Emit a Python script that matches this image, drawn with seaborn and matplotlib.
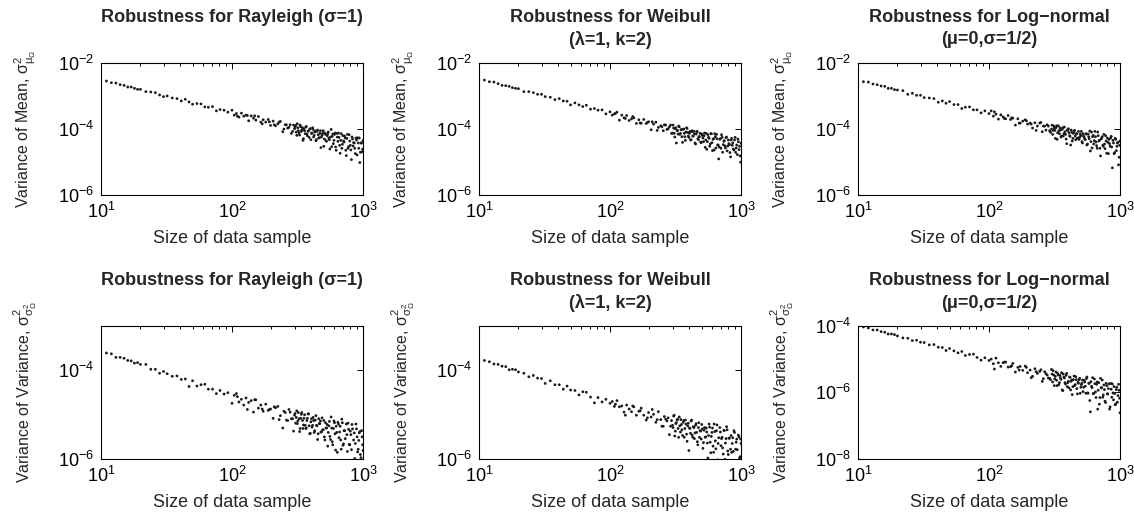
import numpy as np
import matplotlib
matplotlib.use("Agg")
import matplotlib.pyplot as plt
import seaborn as sns
from matplotlib.ticker import FixedLocator, LogLocator, NullLocator, NullFormatter

# ---------------- data ----------------
sample_size = [11, 12, 13, 14, 15, 16, 17, 18, 19, 20, 22, 24, 26, 28, 30, 32, 35, 38, 41, 44,
               47, 50, 54, 58, 62, 66, 71, 76, 81, 87, 93, 100, 104, 108, 113, 118, 123, 128, 134, 140,
               146, 152, 159, 166, 173, 181, 189, 197, 206, 215, 224, 234, 244, 255, 266, 278, 290, 300, 306, 312,
               318, 325, 331, 338, 345, 351, 358, 366, 373, 380, 388, 396, 404, 412, 420, 428, 437, 446, 455, 464,
               473, 482, 492, 502, 512, 522, 533, 543, 554, 565, 577, 588, 600, 612, 624, 637, 650, 663, 676, 689,
               703, 717, 732, 746, 761, 776, 792, 808, 824, 840, 857, 874, 892, 910, 928, 946, 965, 985, 1000]
extra_size = [110, 131, 149, 170, 193, 210, 229, 249, 260, 272, 284, 295, 303, 309, 315, 321, 328, 334, 341, 348,
              354, 362, 369, 376, 384, 392, 400, 408, 416, 424, 432, 441, 450, 459, 468, 477, 487, 497, 507, 517,
              527, 538, 548, 559, 571, 582, 594, 606, 618, 630, 643, 656, 669, 682, 696, 710, 724, 739, 753, 768,
              784, 800, 816, 832, 848, 865, 883, 901, 919, 937, 955, 975, 992]

# log10 of the plotted variance values (main run at sample_size, extra run at extra_size)
mean_rayleigh_log10 = [
    -2.56, -2.61, -2.62, -2.67, -2.69, -2.74, -2.74, -2.78, -2.81, -2.81,
    -2.88, -2.89, -2.91, -2.98, -3.03, -3.01, -3.07, -3.09, -3.16, -3.11,
    -3.19, -3.26, -3.24, -3.25, -3.34, -3.35, -3.33, -3.46, -3.42, -3.44,
    -3.50, -3.44, -3.59, -3.54, -3.65, -3.53, -3.62, -3.59, -3.76, -3.61,
    -3.68, -3.74, -3.63, -3.80, -3.73, -3.80, -3.72, -3.90, -3.77, -3.91,
    -3.85, -3.78, -4.09, -3.88, -3.98, -3.88, -4.08, -4.00, -3.90, -4.20,
    -3.97, -4.13, -3.89, -4.08, -3.97, -4.30, -4.06, -3.95, -4.16, -4.07,
    -4.26, -4.00, -4.14, -3.97, -4.25, -4.10, -4.36, -4.08, -4.18, -4.27,
    -4.06, -4.25, -4.14, -4.53, -4.13, -4.36, -4.21, -4.10, -4.33, -4.25,
    -4.54, -4.16, -4.35, -4.13, -4.65, -4.25, -4.13, -4.50, -4.35, -4.59,
    -4.21, -4.40, -4.28, -4.81, -4.17, -4.54, -4.37, -4.64, -4.25, -4.52,
    -4.43, -4.75, -4.34, -4.27, -4.59, -5.02, -4.43, -4.70, -4.36]
mean_rayleigh_extra_log10 = [
    -3.62, -3.60, -3.61, -3.85, -3.79, -3.88, -3.80, -4.01, -3.88, -3.96,
    -4.14, -3.89, -3.95, -4.10, -3.85, -4.06, -4.19, -3.94, -4.04, -4.35,
    -4.00, -4.15, -3.93, -4.21, -4.07, -4.01, -4.33, -4.13, -4.02, -4.20,
    -4.07, -4.33, -4.04, -4.28, -4.14, -4.57, -4.19, -4.06, -4.31, -4.17,
    -4.38, -4.15, -4.28, -4.61, -4.02, -4.23, -4.45, -4.17, -4.55, -4.14,
    -4.38, -4.26, -4.74, -4.15, -4.47, -4.37, -4.22, -4.65, -4.29, -4.59,
    -4.18, -4.50, -4.93, -4.31, -4.42, -4.59, -4.28, -4.79, -4.43, -4.28,
    -4.71, -4.43, -4.62]
mean_weibull_log10 = [
    -2.53, -2.58, -2.59, -2.64, -2.69, -2.70, -2.72, -2.76, -2.78, -2.79,
    -2.88, -2.88, -2.91, -2.96, -2.96, -3.03, -3.05, -3.12, -3.09, -3.16,
    -3.17, -3.28, -3.22, -3.28, -3.33, -3.29, -3.41, -3.39, -3.44, -3.43,
    -3.55, -3.49, -3.59, -3.55, -3.50, -3.74, -3.59, -3.67, -3.60, -3.75,
    -3.70, -3.67, -3.84, -3.73, -3.83, -3.72, -3.84, -3.79, -4.03, -3.86,
    -3.80, -3.96, -3.91, -4.06, -3.89, -4.00, -3.89, -4.13, -3.98, -4.25,
    -3.97, -4.06, -4.16, -3.94, -4.14, -4.03, -4.41, -4.01, -4.24, -4.10,
    -3.99, -4.22, -4.14, -4.34, -4.09, -4.22, -4.08, -4.43, -4.16, -4.09,
    -4.33, -4.24, -4.40, -4.16, -4.28, -4.21, -4.56, -4.14, -4.39, -4.26,
    -4.53, -4.15, -4.42, -4.32, -4.64, -4.24, -4.17, -4.49, -4.91, -4.32,
    -4.59, -4.26, -4.48, -4.36, -4.58, -4.25, -4.52, -4.45, -4.72, -4.34,
    -4.50, -4.61, -4.34, -4.71, -4.49, -4.31, -4.63, -4.82, -4.44]
mean_weibull_extra_log10 = [
    -3.54, -3.69, -3.63, -3.83, -3.81, -3.79, -4.05, -3.94, -3.88, -4.02,
    -3.94, -4.14, -3.89, -4.14, -4.00, -4.43, -4.05, -3.92, -4.17, -4.03,
    -4.24, -4.01, -4.14, -4.35, -3.97, -4.11, -4.26, -4.08, -4.33, -4.06,
    -4.22, -4.15, -4.46, -4.08, -4.30, -4.24, -4.14, -4.42, -4.20, -4.39,
    -4.13, -4.34, -4.62, -4.18, -4.29, -4.46, -4.15, -4.66, -4.30, -4.15,
    -4.58, -4.30, -4.49, -4.55, -4.30, -4.18, -4.71, -4.38, -4.52, -4.27,
    -4.67, -4.34, -4.48, -4.85, -4.29, -4.43, -4.64, -4.26, -4.58, -4.78,
    -4.39, -4.53, -5.01]
mean_lognormal_log10 = [
    -2.58, -2.59, -2.65, -2.67, -2.71, -2.72, -2.78, -2.78, -2.82, -2.83,
    -2.85, -2.96, -2.93, -2.99, -2.99, -3.06, -3.07, -3.09, -3.20, -3.16,
    -3.23, -3.18, -3.27, -3.27, -3.39, -3.35, -3.34, -3.43, -3.43, -3.52,
    -3.46, -3.54, -3.46, -3.62, -3.56, -3.71, -3.58, -3.64, -3.70, -3.60,
    -3.72, -3.68, -3.89, -3.70, -3.83, -3.77, -3.73, -3.86, -3.83, -3.98,
    -3.82, -3.92, -3.83, -4.09, -3.92, -3.88, -4.06, -4.01, -4.17, -3.92,
    -4.05, -3.97, -4.32, -3.91, -4.15, -4.04, -4.22, -3.97, -4.15, -4.09,
    -4.31, -4.04, -4.00, -4.21, -4.49, -4.11, -4.29, -4.08, -4.22, -4.15,
    -4.29, -4.08, -4.26, -4.21, -4.39, -4.15, -4.26, -4.33, -4.16, -4.46,
    -4.24, -4.07, -4.39, -4.58, -4.20, -4.36, -4.24, -4.51, -4.10, -4.37,
    -4.59, -4.31, -4.24, -4.53, -4.46, -4.21, -4.74, -4.41, -4.32, -4.53,
    -4.23, -5.18, -4.43, -4.72, -4.32, -4.53, -4.41, -4.86, -4.37]
mean_lognormal_extra_log10 = [
    -3.49, -3.69, -3.67, -3.83, -3.76, -3.86, -4.05, -3.81, -3.92, -4.04,
    -3.92, -4.11, -3.89, -4.05, -3.98, -4.29, -3.91, -4.12, -4.06, -3.97,
    -4.25, -4.02, -4.22, -3.95, -4.17, -4.45, -4.05, -4.12, -4.23, -4.04,
    -4.37, -4.14, -4.05, -4.33, -4.15, -4.28, -4.32, -4.16, -4.08, -4.43,
    -4.22, -4.31, -4.15, -4.49, -4.16, -4.30, -4.67, -4.10, -4.24, -4.46,
    -4.08, -4.40, -4.59, -4.21, -4.35, -4.82, -4.29, -4.50, -4.17, -4.60,
    -4.37, -4.28, -4.75, -4.45, -4.28, -4.55, -4.35, -4.75, -4.29, -4.66,
    -4.43, -5.09, -4.50]
var_rayleigh_log10 = [
    -3.61, -3.63, -3.71, -3.71, -3.73, -3.78, -3.79, -3.84, -3.83, -3.87,
    -3.87, -3.98, -3.98, -4.07, -4.03, -4.08, -4.14, -4.13, -4.21, -4.20,
    -4.37, -4.24, -4.36, -4.33, -4.32, -4.43, -4.43, -4.53, -4.46, -4.54,
    -4.51, -4.75, -4.57, -4.53, -4.72, -4.66, -4.79, -4.63, -4.73, -4.69,
    -4.95, -4.67, -4.86, -4.79, -4.93, -4.77, -4.91, -4.88, -5.09, -4.85,
    -4.82, -5.03, -5.31, -4.96, -5.14, -4.95, -5.10, -5.02, -5.20, -4.92,
    -5.15, -5.10, -5.32, -5.00, -5.14, -5.24, -5.01, -5.32, -5.14, -4.99,
    -5.26, -5.43, -5.10, -5.25, -5.14, -5.37, -5.03, -5.26, -5.44, -5.21,
    -5.15, -5.40, -5.35, -5.14, -5.58, -5.31, -5.23, -5.41, -5.16, -5.57,
    -5.31, -5.69, -5.15, -5.44, -5.27, -5.86, -5.22, -5.40, -5.58, -5.11,
    -5.70, -5.37, -5.55, -5.22, -5.84, -5.34, -5.69, -5.46, -5.23, -6.05,
    -5.42, -5.66, -5.33, -5.85, -5.59, -5.39, -5.98, -5.51, -5.82]
var_rayleigh_extra_log10 = [
    -4.60, -4.89, -4.67, -4.88, -4.89, -4.83, -5.12, -4.93, -5.13, -4.89,
    -5.10, -5.38, -4.98, -5.07, -5.21, -4.96, -5.39, -5.09, -4.96, -5.32,
    -5.09, -5.25, -5.31, -5.09, -4.99, -5.44, -5.17, -5.29, -5.07, -5.41,
    -5.13, -5.25, -5.57, -5.10, -5.21, -5.40, -5.08, -5.35, -5.51, -5.19,
    -5.31, -5.72, -5.26, -5.50, -5.06, -5.62, -5.32, -5.19, -5.81, -5.41,
    -5.18, -5.53, -5.27, -5.79, -5.19, -5.67, -5.37, -6.23, -5.46, -5.20,
    -5.68, -5.38, -5.80, -5.33, -5.58, -6.00, -5.22, -5.51, -5.79, -5.42,
    -5.91, -5.37, -5.69]
var_weibull_log10 = [
    -3.78, -3.81, -3.86, -3.87, -3.91, -3.92, -3.99, -3.98, -3.99, -4.04,
    -4.07, -4.15, -4.12, -4.18, -4.19, -4.30, -4.24, -4.33, -4.33, -4.43,
    -4.36, -4.45, -4.46, -4.56, -4.49, -4.50, -4.61, -4.74, -4.62, -4.72,
    -4.66, -4.75, -4.71, -4.82, -4.69, -4.83, -4.81, -4.95, -4.79, -4.88,
    -4.94, -4.83, -5.02, -4.93, -4.86, -5.02, -5.13, -4.96, -5.06, -5.00,
    -5.18, -4.94, -5.12, -5.27, -5.11, -5.08, -5.27, -5.25, -5.04, -5.49,
    -5.21, -5.13, -5.32, -5.06, -5.40, -5.23, -5.48, -5.14, -5.32, -5.22,
    -5.61, -5.20, -5.31, -5.43, -5.13, -5.52, -5.30, -5.42, -5.21, -5.62,
    -5.30, -5.52, -5.38, -5.23, -5.77, -5.36, -5.52, -5.31, -5.65, -5.48,
    -5.29, -5.87, -5.41, -5.72, -5.22, -5.60, -5.37, -6.03, -5.53, -5.30,
    -5.71, -5.52, -5.90, -5.37, -5.65, -5.28, -5.83, -5.54, -6.05, -5.48,
    -5.66, -5.84, -5.41, -5.79, -5.56, -6.32, -5.51, -5.96, -5.66]
var_weibull_extra_log10 = [
    -4.77, -5.02, -4.81, -4.92, -5.08, -4.89, -5.12, -5.27, -5.05, -5.15,
    -5.46, -5.14, -5.30, -5.02, -5.38, -5.19, -5.11, -5.52, -5.26, -5.12,
    -5.35, -5.18, -5.52, -5.13, -5.45, -5.26, -5.82, -5.32, -5.15, -5.47,
    -5.28, -5.55, -5.25, -5.41, -5.69, -5.19, -5.37, -5.56, -5.33, -5.64,
    -5.30, -5.51, -5.40, -5.99, -5.22, -5.63, -5.50, -5.31, -5.86, -5.39,
    -5.78, -5.24, -5.66, -6.21, -5.40, -5.55, -5.76, -5.36, -6.02, -5.55,
    -5.35, -5.91, -5.54, -5.79, -5.86, -5.53, -5.37, -6.06, -5.63, -5.80,
    -5.47, -5.99, -5.56]
var_lognormal_log10 = [
    -4.03, -4.06, -4.12, -4.12, -4.17, -4.19, -4.24, -4.24, -4.26, -4.30,
    -4.36, -4.37, -4.44, -4.43, -4.49, -4.50, -4.57, -4.56, -4.64, -4.65,
    -4.74, -4.68, -4.75, -4.81, -4.77, -4.89, -4.86, -4.85, -4.95, -5.03,
    -4.96, -5.04, -5.00, -5.14, -4.97, -5.11, -5.22, -5.11, -5.09, -5.24,
    -5.23, -5.13, -5.39, -5.25, -5.22, -5.34, -5.21, -5.41, -5.33, -5.52,
    -5.29, -5.43, -5.37, -5.67, -5.38, -5.48, -5.58, -5.31, -5.69, -5.48,
    -5.60, -5.39, -5.80, -5.48, -5.71, -5.56, -5.41, -5.95, -5.54, -5.71,
    -5.49, -5.83, -5.67, -5.54, -5.93, -5.63, -5.83, -5.51, -5.77, -5.62,
    -6.05, -5.73, -5.58, -5.85, -5.73, -5.98, -5.64, -5.82, -5.59, -6.02,
    -5.73, -6.25, -5.68, -5.86, -6.04, -5.60, -5.99, -5.76, -6.51, -5.71,
    -6.16, -5.86, -5.63, -6.08, -5.92, -6.31, -5.80, -6.05, -5.75, -6.44,
    -5.91, -5.75, -6.23, -6.04, -6.35, -5.85, -6.10, -5.94, -6.62]
var_lognormal_extra_log10 = [
    -5.30, -5.09, -5.20, -5.33, -5.25, -5.56, -5.38, -5.32, -5.59, -5.44,
    -5.57, -5.62, -5.45, -5.35, -5.80, -5.52, -5.64, -5.43, -5.77, -5.49,
    -5.61, -5.93, -5.45, -5.57, -5.75, -5.43, -5.71, -5.87, -5.55, -5.67,
    -6.07, -5.62, -5.80, -5.53, -5.89, -5.70, -5.62, -6.03, -5.77, -5.63,
    -5.85, -5.69, -6.03, -5.54, -6.03, -5.73, -6.59, -5.82, -5.56, -6.04,
    -5.74, -6.16, -5.69, -5.94, -6.36, -5.58, -5.87, -6.15, -5.78, -6.27,
    -5.73, -6.05, -5.89, -6.51, -5.73, -6.15, -6.02, -5.83, -6.38, -5.92,
    -6.30, -5.76, -6.18]

title_line1 = ["Robustness for Rayleigh (σ=1)", "Robustness for Weibull", "Robustness for Log\u2212normal"]
title_line2 = ["", "(λ=1, k=2)", "(μ=0,σ=1/2)"]
xlabel_text = "Size of data sample"
ylabel_mean = r"Variance of Mean, $\mathregular{σ^{2}_{μ_{Ω}}}$"
ylabel_var = r"Variance of Variance, $\mathregular{σ^{2}_{σ^{2}_{Ω}}}$"
x_ticks = [10, 100, 1000]
y_limits = [[(1e-6, 1e-2), (1e-6, 1e-2), (1e-6, 1e-2)],
            [(1e-6, 1e-3), (1e-6, 1e-3), (1e-8, 1e-4)]]
y_ticks = [[[1e-6, 1e-4, 1e-2]] * 3,
           [[1e-6, 1e-4], [1e-6, 1e-4], [1e-8, 1e-6, 1e-4]]]

panel_main = [[mean_rayleigh_log10, mean_weibull_log10, mean_lognormal_log10],
              [var_rayleigh_log10, var_weibull_log10, var_lognormal_log10]]
panel_extra = [[mean_rayleigh_extra_log10, mean_weibull_extra_log10, mean_lognormal_extra_log10],
               [var_rayleigh_extra_log10, var_weibull_extra_log10, var_lognormal_extra_log10]]

# ---------------- style ----------------
sns.set_style("white")
plt.rcParams["font.family"] = ["Liberation Sans", "DejaVu Sans"]
plt.rcParams["mathtext.fontset"] = "custom"
plt.rcParams["mathtext.rm"] = "Liberation Sans"
plt.rcParams["mathtext.it"] = "Liberation Sans:italic"
plt.rcParams["mathtext.bf"] = "Liberation Sans:bold"

W, H = 1134, 522
fig = plt.figure(figsize=(W / 100, H / 100), dpi=100)
fig.patch.set_facecolor("white")

col_left_px = [101, 479, 858]
axes_w_px = 262
row_top_px = [62.5, 326]
axes_h_px = 132.5

for r in range(2):
    for c in range(3):
        left = col_left_px[c] / W
        bottom = 1 - (row_top_px[r] + axes_h_px) / H
        ax = fig.add_axes([left, bottom, axes_w_px / W, axes_h_px / H])
        xs = list(sample_size) + list(extra_size)
        ys = 10.0 ** np.asarray(list(panel_main[r][c]) + list(panel_extra[r][c]))
        sns.scatterplot(x=xs, y=ys, ax=ax, s=4.0, marker="o",
                        color="#1a1a1a", edgecolor="none", linewidth=0, legend=False)
        ax.set_xscale("log")
        ax.set_yscale("log")
        ax.set_xlim(10, 1000)
        ax.set_ylim(*y_limits[r][c])
        ax.xaxis.set_major_locator(FixedLocator(x_ticks))
        ax.xaxis.set_minor_locator(LogLocator(base=10, subs=range(2, 10)))
        ax.xaxis.set_minor_formatter(NullFormatter())
        ax.yaxis.set_major_locator(FixedLocator(y_ticks[r][c]))
        ax.yaxis.set_minor_locator(NullLocator())
        ax.tick_params(which="both", direction="in", top=True, right=True,
                       colors="black", labelsize=13, width=0.7, pad=5)
        ax.tick_params(which="major", length=4.5)
        ax.tick_params(which="minor", length=2.5)
        ax.grid(False)
        for sp in ax.spines.values():
            sp.set_color("black")
            sp.set_linewidth(0.8)

        ax.set_xlabel(xlabel_text, fontsize=13)
        ax.xaxis.label.set_va("center")
        ax.xaxis.set_label_coords(0.5, -0.33)
        ax.set_ylabel(ylabel_mean if r == 0 else ylabel_var, fontsize=11.5)
        ax.yaxis.label.set_va("center")
        ax.yaxis.set_label_coords(-0.29, 0.5)

        ax.text(0.5, 1.34, title_line1[c], transform=ax.transAxes, ha="center",
                va="center", fontsize=13, fontweight="bold")
        if title_line2[c]:
            ax.text(0.5, 1.17, title_line2[c], transform=ax.transAxes, ha="center",
                    va="center", fontsize=13, fontweight="bold")

fig.savefig("out.png", dpi=100, facecolor="white")
